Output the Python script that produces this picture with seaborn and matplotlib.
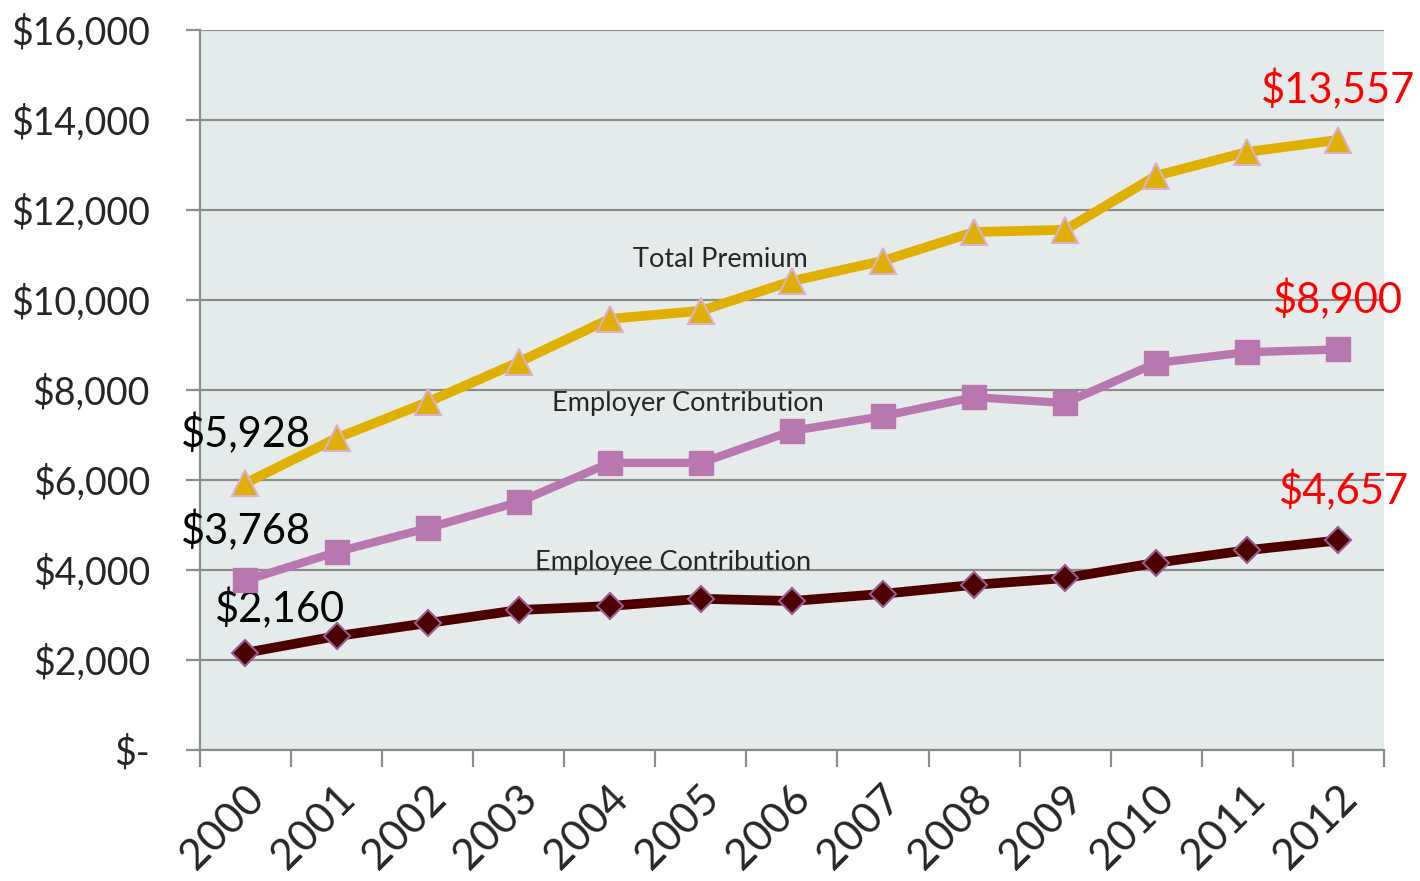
import numpy as np
import pandas as pd
import seaborn as sns
import matplotlib.pyplot as plt
import matplotlib.transforms as mtransforms
from matplotlib.ticker import FuncFormatter, FixedLocator

years = ["2000", "2001", "2002", "2003", "2004", "2005", "2006",
         "2007", "2008", "2009", "2010", "2011", "2012"]
total_premium = [5928, 6930, 7730, 8620, 9580, 9760, 10420,
                 10870, 11510, 11560, 12760, 13290, 13557]
employer = [3768, 4400, 4930, 5510, 6380, 6380, 7090,
            7420, 7840, 7710, 8600, 8840, 8900]
employee = [2160, 2530, 2820, 3110, 3200, 3360, 3310,
            3470, 3670, 3820, 4160, 4440, 4657]

df = pd.DataFrame({"idx": np.arange(len(years)),
                   "Total Premium": total_premium,
                   "Employer Contribution": employer,
                   "Employee Contribution": employee})

sns.set_style("white")
plt.rcParams["font.family"] = ["Lato", "DejaVu Sans"]

fig = plt.figure(figsize=(14.2, 8.81), dpi=100)
ax = fig.add_axes([0.1408, 0.1487, 0.8338, 0.8173])
ax.set_facecolor("#E5EBEB")

grid_c = "#8C8C8C"
sns.lineplot(data=df, x="idx", y="Total Premium", ax=ax, color="#E0B000",
             linewidth=7, marker="^", markersize=19,
             markeredgecolor="#D9AFD3", markeredgewidth=1.5, zorder=5)
sns.lineplot(data=df, x="idx", y="Employer Contribution", ax=ax, color="#B877AF",
             linewidth=6, marker="s", markersize=17,
             markeredgecolor="#B877AF", markeredgewidth=1, zorder=4)
sns.lineplot(data=df, x="idx", y="Employee Contribution", ax=ax, color="#4D0000",
             linewidth=7, marker="D", markersize=13,
             markeredgecolor="#9A5C92", markeredgewidth=1.5, zorder=6)

ax.set_xlim(-0.5, len(years) - 0.5)
ax.set_ylim(0, 16000)
ax.set_yticks(np.arange(0, 16001, 2000))
ax.yaxis.set_major_formatter(FuncFormatter(lambda v, p: "$-" if v == 0 else f"${v:,.0f}"))
ax.grid(axis="y", color=grid_c, linewidth=1.6)
ax.set_axisbelow(True)

for s in ["top", "right"]:
    ax.spines[s].set_visible(False)
for s in ["left", "bottom"]:
    ax.spines[s].set_color(grid_c)
    ax.spines[s].set_linewidth(1.6)

ax.set_xlabel("")
ax.set_ylabel("")
ax.tick_params(axis="y", left=True, length=10, width=1.6, color=grid_c,
               pad=26, labelsize=27)

ax.set_xticks(np.arange(len(years)))
ax.set_xticklabels(years, rotation=45, ha="right", va="center",
                   rotation_mode="anchor", fontsize=31)
ax.xaxis.set_minor_locator(FixedLocator(np.arange(-0.5, len(years), 1.0)))
ax.tick_params(axis="x", which="major", bottom=True, length=0, pad=30)
ax.tick_params(axis="x", which="minor", bottom=True, length=12, width=1.6,
               color=grid_c)
shift = mtransforms.ScaledTranslation(0.12, 0, fig.dpi_scale_trans)
for lab in ax.get_xticklabels():
    lab.set_transform(lab.get_transform() + shift)

# start / end value labels
starts = [(total_premium[0], 0, 36), (employer[0], 0, 36), (employee[0], 25, 32)]
for v, dx, dy in starts:
    ax.annotate(f"${v:,}", xy=(0, v), xytext=(dx, dy), textcoords="offset points",
                ha="center", va="center", fontsize=30, color="black")
ends = [(total_premium[-1], 0), (employer[-1], 0), (employee[-1], 4)]
for v, dx in ends:
    ax.annotate(f"${v:,}", xy=(len(years) - 1, v), xytext=(dx, 36),
                textcoords="offset points", ha="center", va="center",
                fontsize=30, color="#FF0000", annotation_clip=False)

ax.text(5.21, 10890, "Total Premium", ha="center", va="center", fontsize=19.5)
ax.text(4.86, 7710, "Employer Contribution", ha="center", va="center", fontsize=19.5)
ax.text(4.69, 4160, "Employee Contribution", ha="center", va="center", fontsize=19.5)

fig.savefig("out.png", dpi=100)
